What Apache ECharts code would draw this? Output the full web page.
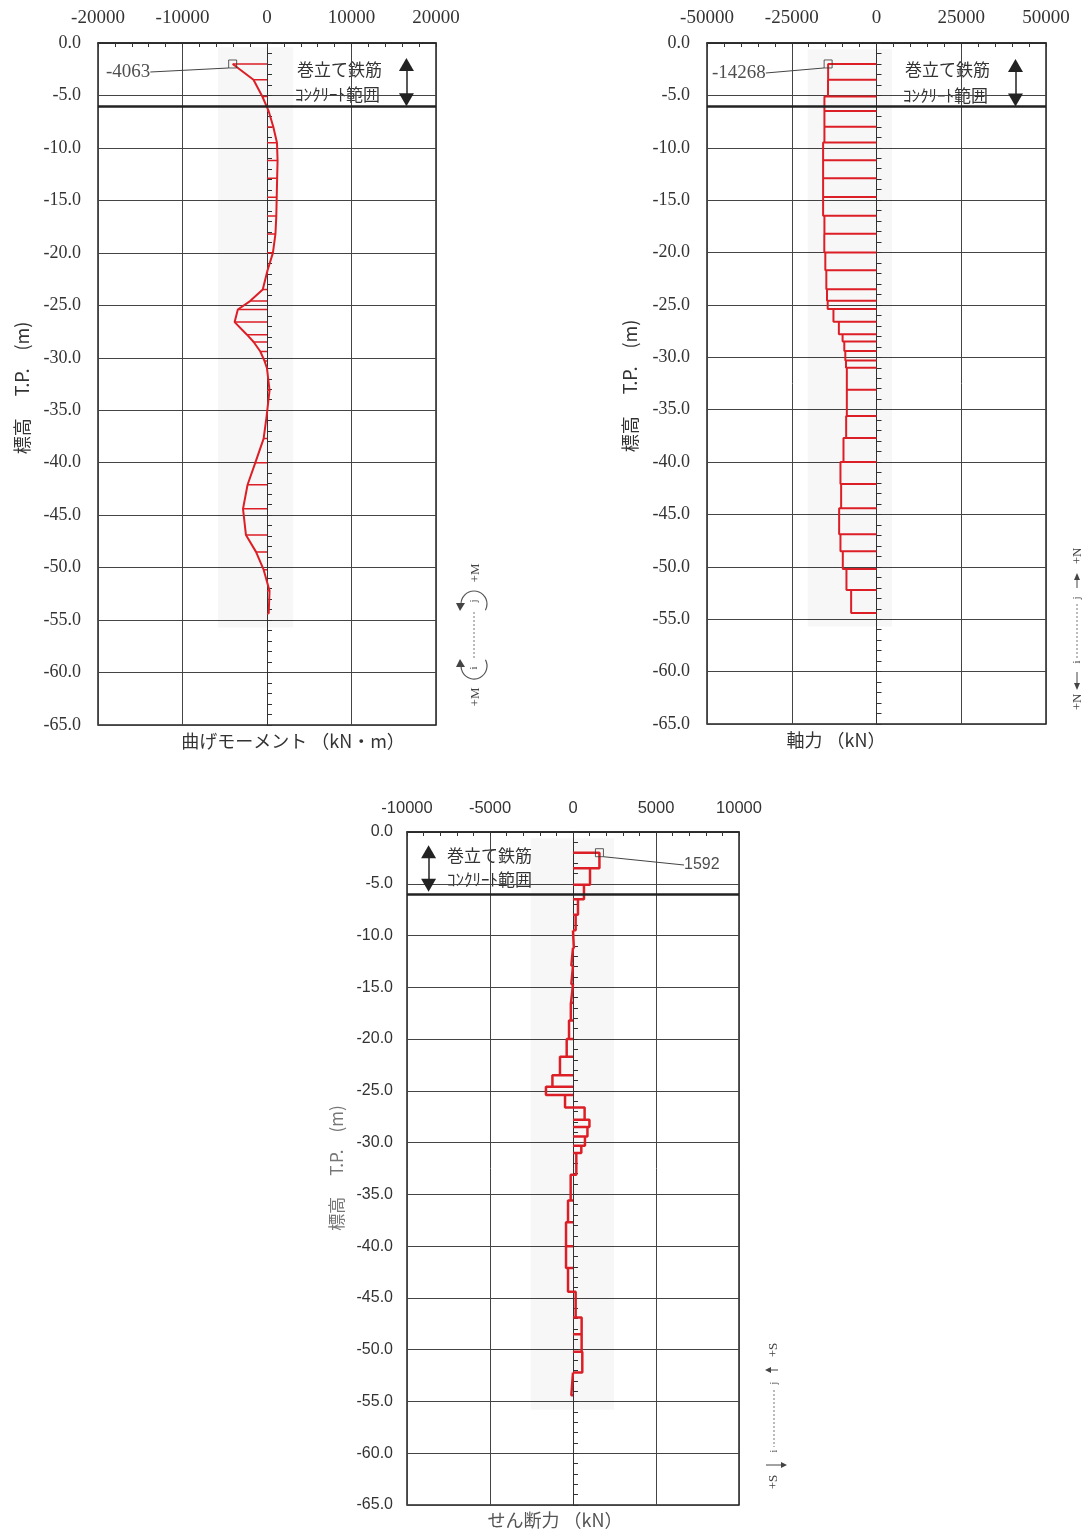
<!DOCTYPE html>
<html>
<head>
<meta charset="utf-8">
<script src="https://cdn.jsdelivr.net/npm/echarts@6/dist/echarts.min.js"></script>
<style>
  html, body { margin: 0; padding: 0; background: #fff; }
  #chart { width: 1091px; height: 1533px; }
</style>
</head>
<body>
<div id="chart"></div>
<script>
// T.P. level of each pile node (m)
const nodeLevel = [-2.0, -3.5, -5.1, -6.5, -8.0, -9.5, -11.2, -12.9, -14.7, -16.5, -18.2,
  -20.0, -21.7, -23.5, -24.6, -25.4, -26.6, -27.8, -28.5, -29.4, -30.3, -31.0, -33.1,
  -35.6, -37.7, -40.0, -42.1, -44.4, -46.9, -48.5, -50.2, -52.2, -54.4];

// bending moment at each node (kN·m)
const momentValues = [-4063, -1600, -550, 200, 750, 1180, 1250, 1200, 1150, 1100, 1000,
  700, 50, -500, -2000, -3450, -3830, -2370, -1580, -790, -300, 0, 300,
  -50, -400, -1380, -2300, -2840, -2490, -1300, -400, 300, 200];

// axial force of each element between two nodes (kN)
const axialValues = [-14268, -14300, -15360, -15360, -15360, -15750, -15750, -15750, -15750,
  -15360, -15400, -15100, -14800, -14600, -14400, -12700, -11100, -10000, -9500, -9200,
  -9000, -8750, -8750, -8950, -9740, -10630, -10430, -11020, -10630, -9940, -8860, -7480];

// shear force of each element between two nodes (kN)
const shearValues = [1592, 1025, 660, 300, 160, 50, -100, -100, -120, -130, -240,
  -380, -785, -1240, -1630, -480, 700, 990, 870, 720, 500, 200, -140,
  -300, -420, -420, -300, 160, 520, 520, 560, -100];

// axis ranges [min, max, interval]
const levelAxis = [-65, 0, 5];
const momentAxis = [-20000, 20000, 10000];
const axialAxis = [-50000, 50000, 25000];
const shearAxis = [-10000, 10000, 5000];

// level of the wrapped-rebar concrete base
const wrapBaseLevel = -6.0;

const RED = '#dc1f26';
const SERIF = '"Liberation Serif", "DejaVu Serif", serif';
const SANS = '"Liberation Sans", "Noto Sans", sans-serif';
const JP = '"Noto Sans CJK JP", sans-serif';
const GAP = ['-', '-'];

function hatch(vals) {
  const out = [];
  vals.forEach((v, i) => { out.push([0, nodeLevel[i]], [v, nodeLevel[i]], GAP); });
  return out;
}
function stepOutline(vals) {
  const out = [];
  vals.forEach((v, i) => {
    const a = nodeLevel[i], b = nodeLevel[i + 1];
    out.push([0, a], [v, a], [v, b], [0, b], GAP);
  });
  return out;
}

function xAxisOf(idx, range, font, size) {
  return {
    gridIndex: idx, type: 'value', position: 'top',
    min: range[0], max: range[1], interval: range[2],
    axisLine: { show: true, onZero: false, lineStyle: { color: '#222', width: 1.5 } },
    axisTick: { show: true, inside: true, length: 4, lineStyle: { color: '#333' } },
    minorTick: { show: true, splitNumber: 5, length: 4, lineStyle: { color: '#333' } },
    splitLine: { show: true, lineStyle: { color: '#444', width: 1 } },
    axisLabel: { fontFamily: font, fontSize: size, color: '#333', margin: 15,
      formatter: v => String(v) }
  };
}
function levelAxisOf(idx, font, size, margin) {
  return {
    gridIndex: idx, type: 'value', min: levelAxis[0], max: levelAxis[1], interval: levelAxis[2],
    axisLine: { show: false, onZero: false }, axisTick: { show: false },
    splitLine: { show: true, lineStyle: { color: '#444', width: 1 } },
    axisLabel: { fontFamily: font, fontSize: size, color: '#333', margin: margin,
      formatter: v => v.toFixed(1) }
  };
}
// pile axis drawn along x = 0 with a tick every metre
function zeroAxisOf(idx) {
  return {
    gridIndex: idx, type: 'value', position: 'left',
    min: levelAxis[0], max: levelAxis[1], interval: 1,
    axisLine: { show: true, onZero: true, onZeroAxisIndex: idx, lineStyle: { color: '#333', width: 1 } },
    axisTick: { show: true, inside: true, length: 5, lineStyle: { color: '#333' } },
    axisLabel: { show: false }, splitLine: { show: false }
  };
}

function wrapMarks(arrowX, top, bottom) {
  return {
    silent: true, symbol: ['none', 'none'], label: { show: false },
    data: [
      { yAxis: wrapBaseLevel, lineStyle: { color: '#222', width: 2.5, type: 'solid' } },
      [
        { coord: [arrowX, top], symbol: 'triangle', symbolSize: [15, 13] },
        { coord: [arrowX, bottom], symbol: 'triangle', symbolSize: [15, 13],
          lineStyle: { color: '#222', width: 1.5, type: 'solid' } }
      ]
    ],
    itemStyle: { color: '#222' },
    lineStyle: { color: '#222', width: 1.5, type: 'solid' }
  };
}
function band(x0, x1, y0, y1) {
  return { silent: true, itemStyle: { color: 'rgba(0,0,0,0.03)' },
    data: [[{ coord: [x0, y0] }, { coord: [x1, y1] }]] };
}
function peakMarker(xi, yi, value, font, size, lx, ly) {
  return {
    type: 'scatter', xAxisIndex: xi, yAxisIndex: yi, z: 6,
    data: [value],
    symbol: 'rect', symbolSize: 8,
    itemStyle: { color: 'rgba(255,255,255,0)', borderColor: '#333', borderWidth: 1 },
    label: { show: true, formatter: p => String(p.value[0]), fontFamily: font, fontSize: size, color: '#222' },
    labelLayout: { x: lx, y: ly, align: 'left', verticalAlign: 'middle' },
    labelLine: { show: true, lineStyle: { color: '#444', width: 1 } }
  };
}

function rotText(x, y, t, size, color) {
  return { type: 'text', x: x, y: y, rotation: Math.PI / 2,
    style: { text: t, font: size + 'px ' + SERIF, fill: color || '#444', align: 'center', verticalAlign: 'middle' } };
}
function txt(x, y, t, size, align, family, color) {
  return { type: 'text', x: x, y: y,
    style: { text: t, font: size + 'px ' + (family || JP), fill: color || '#333', align: align || 'left', verticalAlign: 'middle' } };
}
function vtxt(x, y, t, size, color) {
  return Object.assign(txt(x, y, t, size, 'center', JP, color), { rotation: Math.PI / 2 });
}
function seg(x1, y1, x2, y2, dash) {
  return { type: 'line', shape: { x1, y1, x2, y2 },
    style: { stroke: dash ? '#777' : '#444', lineWidth: 1, lineDash: dash ? [2, 2] : null } };
}
function tri(points) {
  return { type: 'polygon', shape: { points: points }, style: { fill: '#444' } };
}
function arc(cx, cy, r, a0, a1) {
  return { type: 'arc', shape: { cx, cy, r, startAngle: a0, endAngle: a1, clockwise: true },
    style: { stroke: '#555', lineWidth: 1.2, fill: null } };
}

const graphics = [
  // axis titles
  txt(293, 741, '曲げモーメント （kN・m）', 18, 'center'),
  txt(836, 740, '軸力 （kN）', 18, 'center'),
  txt(555, 1520, 'せん断力 （kN）', 18, 'center', JP, '#555'),
  vtxt(22, 388, '標高　 T.P.　(m)', 18),
  vtxt(630, 386, '標高　 T.P.　(m)', 18),
  vtxt(337, 1168, '標高　 T.P.　(m)', 17, '#777'),
  // wrapped-rebar concrete range notes
  txt(297, 70, '巻立て鉄筋', 17), txt(295, 95, 'ｺﾝｸﾘｰﾄ範囲', 17),
  txt(905, 70, '巻立て鉄筋', 17), txt(903, 96, 'ｺﾝｸﾘｰﾄ範囲', 17),
  txt(447, 856, '巻立て鉄筋', 17), txt(447, 880, 'ｺﾝｸﾘｰﾄ範囲', 17),
  // sign convention: moment
  rotText(476, 573, '+M', 13),
  arc(474, 604, 13, Math.PI, 2 * Math.PI + 0.5),
  tri([[456, 603], [465, 603], [460, 611]]),
  rotText(474, 601, 'j', 11),
  seg(474, 612, 474, 658, true),
  rotText(474, 668, 'i', 11),
  arc(474, 666, 13, -0.5, Math.PI),
  tri([[456, 667], [465, 667], [460, 659]]),
  rotText(476, 697, '+M', 13),
  // sign convention: axial force
  rotText(1078, 556, '+N', 13),
  seg(1077, 588, 1077, 579), tri([[1074, 580], [1080, 580], [1077, 573]]),
  rotText(1077, 598, 'j', 11),
  seg(1077, 604, 1077, 658, true),
  rotText(1077, 662, 'i', 11),
  seg(1077, 672, 1077, 684), tri([[1074, 683], [1080, 683], [1077, 690]]),
  rotText(1078, 702, '+N', 13),
  // sign convention: shear force
  rotText(774, 1350, '+S', 13),
  seg(778, 1370, 770, 1370), tri([[771, 1367], [771, 1373], [765, 1370]]),
  rotText(774, 1383, 'j', 10),
  seg(774, 1390, 774, 1447, true),
  rotText(774, 1451, 'i', 10),
  seg(766, 1465, 782, 1465), tri([[781, 1462], [781, 1468], [787, 1465]]),
  rotText(774, 1482, '+S', 13)
];

const gridStyle = { show: true, borderColor: '#222', borderWidth: 1.5, backgroundColor: 'transparent' };

const option = {
  backgroundColor: '#fff',
  animation: false,
  grid: [
    Object.assign({ left: 98, top: 43, width: 338, height: 682 }, gridStyle),
    Object.assign({ left: 707, top: 43, width: 339, height: 681 }, gridStyle),
    Object.assign({ left: 407, top: 832, width: 332, height: 673 }, gridStyle)
  ],
  xAxis: [
    xAxisOf(0, momentAxis, SERIF, 19),
    xAxisOf(1, axialAxis, SERIF, 19),
    xAxisOf(2, shearAxis, SANS, 16.5)
  ],
  yAxis: [
    levelAxisOf(0, SERIF, 18, 17), zeroAxisOf(0),
    levelAxisOf(1, SERIF, 18, 17), zeroAxisOf(1),
    levelAxisOf(2, SANS, 16, 14), zeroAxisOf(2)
  ],
  graphic: graphics,
  series: [
    // bending moment
    {
      type: 'line', xAxisIndex: 0, yAxisIndex: 0, symbol: 'none', z: 3,
      data: momentValues.map((v, i) => [v, nodeLevel[i]]),
      lineStyle: { color: RED, width: 2 },
      markArea: band(-5800, 3100, -0.4, -55.7)
    },
    {
      type: 'line', xAxisIndex: 0, yAxisIndex: 0, symbol: 'none', z: 3, connectNulls: false,
      data: hatch(momentValues),
      lineStyle: { color: RED, width: 1.5 },
      markLine: wrapMarks(16500, -2.05, -5.4)
    },
    peakMarker(0, 0, [momentValues[0], nodeLevel[0]], SERIF, 19, 106, 72),
    // axial force
    {
      type: 'line', xAxisIndex: 1, yAxisIndex: 2, symbol: 'none', z: 3, connectNulls: false,
      data: stepOutline(axialValues),
      lineStyle: { color: RED, width: 2 },
      markArea: band(-20300, 4600, -0.6, -55.7),
      markLine: wrapMarks(41000, -2.15, -5.45)
    },
    peakMarker(1, 2, [axialValues[0], nodeLevel[0]], SERIF, 19, 712, 73),
    // shear force
    {
      type: 'line', xAxisIndex: 2, yAxisIndex: 4, symbol: 'none', z: 3, connectNulls: false,
      data: stepOutline(shearValues),
      lineStyle: { color: RED, width: 2.5 },
      markArea: band(-2550, 2470, -0.6, -55.8),
      markLine: wrapMarks(-8700, -1.9, -5.15)
    },
    peakMarker(2, 4, [shearValues[0], nodeLevel[0]], SANS, 16, 684, 865)
  ]
};

const chart = echarts.init(document.getElementById('chart'), null, { renderer: 'canvas' });
chart.setOption(option);
</script>
</body>
</html>
